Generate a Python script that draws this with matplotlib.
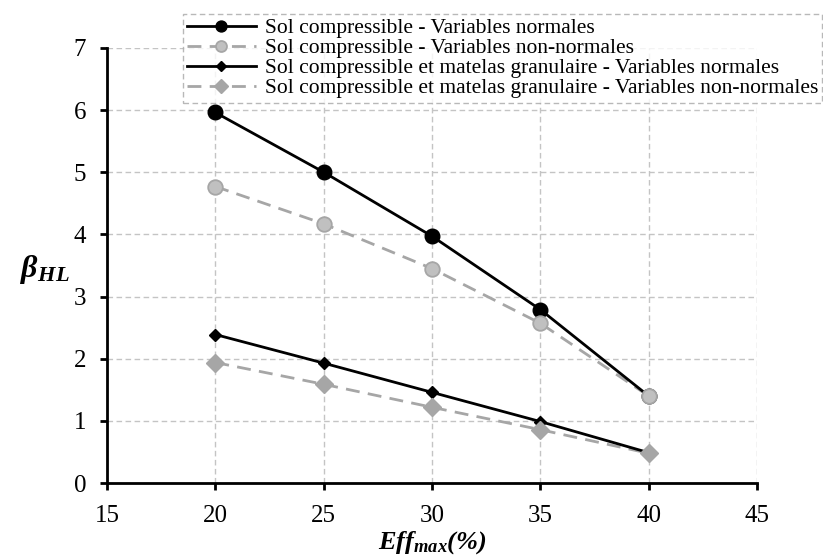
import matplotlib
matplotlib.use("Agg")
import matplotlib.pyplot as plt
from matplotlib.lines import Line2D

plt.rcParams['font.family'] = ['Liberation Serif', 'DejaVu Serif']
plt.rcParams['mathtext.fontset'] = 'custom'
plt.rcParams['mathtext.rm'] = 'Liberation Serif'
plt.rcParams['mathtext.it'] = 'Liberation Serif:italic'
plt.rcParams['mathtext.bf'] = 'Liberation Serif:bold'
plt.rcParams['mathtext.bfit'] = 'Liberation Serif:bold:italic'

eff = [20, 25, 30, 35, 40]
sol_normal = [5.96, 5.00, 3.97, 2.79, 1.40]
sol_nonnormal = [4.77, 4.17, 3.45, 2.57, 1.40]
mat_normal = [2.39, 1.93, 1.46, 0.99, 0.49]
mat_nonnormal = [1.94, 1.59, 1.22, 0.86, 0.48]

labels = [
    "Sol compressible - Variables normales",
    "Sol compressible - Variables non-normales",
    "Sol compressible et matelas granulaire - Variables normales",
    "Sol compressible et matelas granulaire - Variables non-normales",
]

fig = plt.figure(figsize=(8.23, 5.56), dpi=100)
ax = fig.add_axes([0.130, 0.131, 0.790, 0.783])

dash = (0, (5, 3))
styles = [
    dict(color='black', lw=2.0, ls='-', marker='o', ms=10.5, mfc='black', mec='black', mew=1.0),
    dict(color='#a6a6a6', lw=2.0, ls=dash, marker='o', ms=10.5, mfc='#c0c0c0', mec='#a6a6a6', mew=1.3),
    dict(color='black', lw=2.0, ls='-', marker='D', ms=6.5, mfc='black', mec='black', mew=1.0),
    dict(color='#a6a6a6', lw=2.0, ls=dash, marker='D', ms=9.5, mfc='#a6a6a6', mec='#a6a6a6', mew=1.0),
]
series = [sol_normal, sol_nonnormal, mat_normal, mat_nonnormal]
line_z = [3.5, 3.0, 3.5, 3.0]
mark_z = [5, 6, 5, 6]

for vals, st, lz, mz in zip(series, styles, line_z, mark_z):
    ax.plot(eff, vals, color=st['color'], lw=st['lw'], ls=st['ls'], zorder=lz)
    ax.plot(eff, vals, ls='none', marker=st['marker'], ms=st['ms'], mfc=st['mfc'],
            mec=st['mec'], mew=st['mew'], zorder=mz)

ax.set_xlim(15, 45)
ax.set_ylim(0, 7)
ax.set_xticks([15, 20, 25, 30, 35, 40, 45])
ax.set_yticks(range(0, 8))
ax.grid(True, color='#c4c4c4', ls=(0, (4, 2.5)), lw=1.0)
ax.set_axisbelow(True)
for s in ['top', 'right']:
    ax.spines[s].set_visible(False)
for s in ['left', 'bottom']:
    ax.spines[s].set_linewidth(2.0)
ax.tick_params(axis='both', which='major', labelsize=18, width=2.0, length=5, direction='out')
ax.tick_params(axis='x', pad=11)
ax.tick_params(axis='y', pad=10)

ax.set_xlabel(r'$\mathbfit{Eff}_{\mathbfit{max}}\mathbfit{(\%)}$', fontsize=19, labelpad=1)
fig.text(0.055, 0.515, r'$\boldsymbol{\beta}_{\mathbfit{HL}}$', fontsize=23,
         ha='center', va='center')

handles = [Line2D([], [], color=st['color'], lw=st['lw'], ls=st['ls'], marker=st['marker'],
                  ms=st['ms'] * 0.75, mfc=st['mfc'], mec=st['mec'], mew=st['mew'])
           for st in styles]
leg = fig.legend(handles, labels, loc='upper left', bbox_to_anchor=(0.222, 0.975), fontsize=15.5,
                 frameon=True, fancybox=False, handlelength=3.2, handletextpad=0.4,
                 labelspacing=0.0, borderpad=0.2, borderaxespad=0)
fr = leg.get_frame()
fr.set_edgecolor('#a6a6a6')
fr.set_linestyle((0, (4, 2.5)))
fr.set_linewidth(1.0)

fig.savefig('out.png', dpi=100)
